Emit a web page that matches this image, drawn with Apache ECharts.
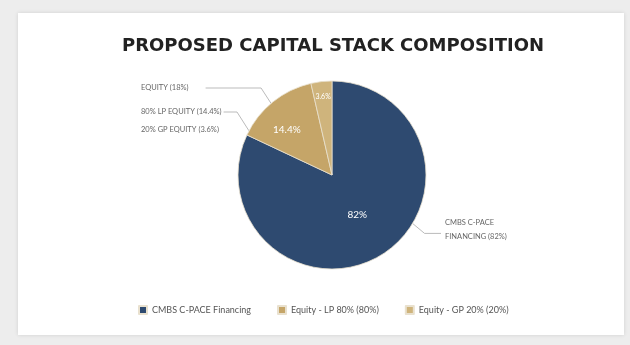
<!DOCTYPE html>
<html>
<head>
<meta charset="utf-8">
<script src="https://cdn.jsdelivr.net/npm/echarts@6/dist/echarts.min.js"></script>
<style>
  html, body { margin: 0; padding: 0; background: #ededed; }
  #card { position: absolute; left: 18px; top: 13px; width: 606px; height: 322px; background: #fff; box-shadow: 0 0 4px rgba(0,0,0,0.12); }
  #chart { position: absolute; left: 0; top: 0; width: 630px; height: 345px; }
</style>
</head>
<body>
<div id="card"></div>
<div id="chart"></div>
<script>
// Capital stack slices (percent of total)
const sliceNames = ['CMBS C-PACE Financing', 'Equity - LP 80% (80%)', 'Equity - GP 20% (20%)'];
const sliceShares = [82, 14.4, 3.6];
const sliceCallouts = ['CMBS C-PACE\nFINANCING (82%)', '80% LP EQUITY (14.4%)', '20% GP EQUITY (3.6%)'];
const equityCallout = 'EQUITY (18%)';
const sliceColors = ['#2e4a70', '#c5a568', '#cfb47c'];

// Debt vs. total equity, used for the "EQUITY" callout
const equityTotal = sliceShares[1] + sliceShares[2];
const debtEquity = [sliceShares[0], equityTotal];

const CX = 332, CY = 175, R = 94;
const total = sliceShares.reduce((a, b) => a + b, 0);

// clockwise angle (deg, from 12 o'clock) of a point along the cumulative share
function angleAt(share) { return share / total * 360; }
function polar(angleDeg, frac) {
  const a = angleDeg * Math.PI / 180;
  return [CX + R * frac * Math.sin(a), CY - R * frac * Math.cos(a)];
}
function midAngle(i) {
  let start = 0;
  for (let k = 0; k < i; k++) start += sliceShares[k];
  return angleAt(start + sliceShares[i] / 2);
}

const chart = echarts.init(document.getElementById('chart'), null, { renderer: 'canvas' });
const labelFont = 'Lato, "DejaVu Sans", sans-serif';

chart.setOption({
  animation: false,
  title: {
    text: 'PROPOSED CAPITAL STACK COMPOSITION',
    left: 117,
    top: 32,
    textStyle: { fontFamily: '"DejaVu Sans", sans-serif', fontWeight: 'bold', fontSize: 18, color: '#222' }
  },
  legend: {
    data: sliceNames,
    left: 133,
    top: 300,
    itemWidth: 8,
    itemHeight: 8,
    itemGap: 26,
    icon: 'rect',
    textStyle: { fontFamily: labelFont, fontSize: 9, color: '#555' }
  },
  series: [
    {
      // slices with inner percentage labels
      type: 'pie',
      center: [CX, CY],
      radius: R,
      startAngle: 90,
      clockwise: true,
      data: sliceNames.map((n, i) => ({ name: n, value: sliceShares[i], itemStyle: { color: sliceColors[i] } })),
      itemStyle: { borderColor: '#e9e1cf', borderWidth: 0.8 },
      label: {
        position: 'inside',
        formatter: p => p.value + '%',
        color: '#fff',
        fontFamily: labelFont,
        fontSize: 10
      },
      labelLayout: function (p) {
        const fracs = [0.5, 0.68, 0.84];
        const pt = polar(midAngle(p.dataIndex) + (p.dataIndex === 1 ? -6 : 0), fracs[p.dataIndex]);
        return { x: pt[0], y: pt[1], align: 'center', verticalAlign: 'middle', fontSize: p.dataIndex === 2 ? 7 : 10 };
      },
      labelLine: { show: false },
      emphasis: { disabled: true }
    },
    {
      // outer callouts for each slice
      type: 'pie',
      center: [CX, CY],
      radius: R,
      startAngle: 90,
      clockwise: true,
      silent: true,
      data: sliceNames.map((n, i) => ({ name: n, value: sliceShares[i] })),
      itemStyle: { color: 'rgba(0,0,0,0)' },
      label: {
        show: true,
        position: 'outside',
        formatter: p => sliceCallouts[p.dataIndex],
        color: '#666',
        fontFamily: labelFont,
        fontSize: 7.5,
        lineHeight: 14
      },
      labelLine: { show: true, lineStyle: { color: '#aaa', width: 0.8 } },
      labelLayout: function (p) {
        if (p.dataIndex === 0) {
          const e = polar(121, 1);
          return { x: 445, y: 230, align: 'left', verticalAlign: 'middle',
                   labelLinePoints: [e, [e[0] + 12, e[1] + 10], [441, e[1] + 10]] };
        }
        if (p.dataIndex === 1) {
          const e = polar(298, 1);
          return { x: 141, y: 112, align: 'left', verticalAlign: 'middle',
                   labelLinePoints: [e, [e[0] - 12, 112], [p.labelRect.width + 143, 112]] };
        }
        return { x: 141, y: 130, align: 'left', verticalAlign: 'middle',
                 labelLinePoints: [[140, 130], [140, 130], [140, 130]] };
      },
      emphasis: { disabled: true }
    },
    {
      // total equity callout
      type: 'pie',
      center: [CX, CY],
      radius: R,
      startAngle: 90,
      clockwise: true,
      silent: true,
      data: [
        { name: 'debt', value: debtEquity[0], label: { show: false }, labelLine: { show: false } },
        { name: 'equity', value: debtEquity[1] }
      ],
      itemStyle: { color: 'rgba(0,0,0,0)' },
      label: {
        show: true,
        position: 'outside',
        formatter: equityCallout,
        color: '#666',
        fontFamily: labelFont,
        fontSize: 7.5
      },
      labelLine: { show: true, lineStyle: { color: '#aaa', width: 0.8 } },
      labelLayout: function (p) {
        if (p.dataIndex !== 1) return {};
        const e = polar(360 - equityTotal / 2 / total * 360 - 8, 1);
        return { x: 141, y: 88, align: 'left', verticalAlign: 'middle',
                 labelLinePoints: [e, [e[0] - 10, 88], [p.labelRect.width + 158, 88]] };
      },
      emphasis: { disabled: true }
    }
  ]
});
</script>
</body>
</html>
